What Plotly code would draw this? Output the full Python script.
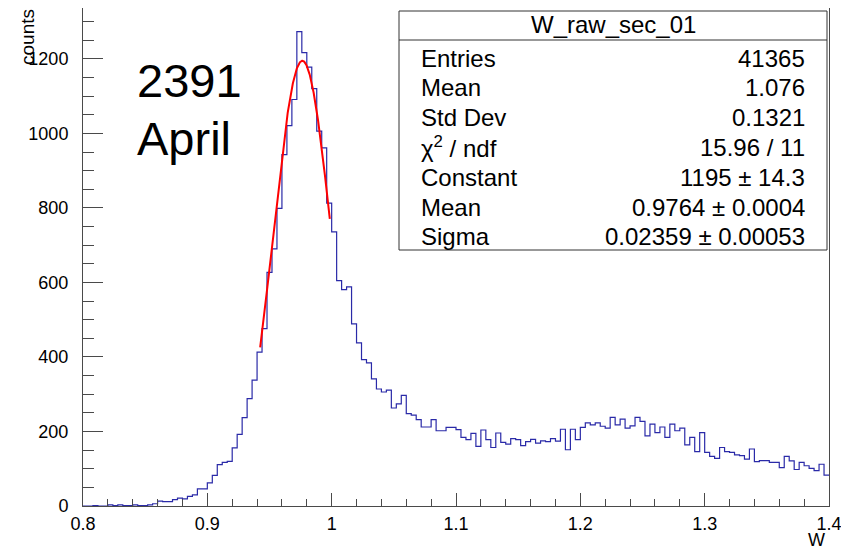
import numpy as np
import plotly.graph_objects as go

# ---- histogram: W_raw_sec_01, 150 bins on [0.8, 1.4] ----
x_min, x_max, n_bins = 0.8, 1.4, 150
counts = [
    0, 0, 1, 0, 0, 3, 1, 3, 1, 1,
    3, 1, 1, 3, 6, 13, 12, 12, 17, 21,
    19, 26, 30, 46, 46, 62, 82, 111, 117, 120,
    156, 192, 237, 288, 338, 413, 476, 627, 690, 799,
    943, 1021, 1091, 1273, 1217, 1178, 1120, 1006, 961, 813,
    736, 605, 581, 588, 489, 438, 393, 384, 341, 314,
    306, 311, 263, 274, 297, 248, 244, 232, 212, 212,
    232, 202, 202, 211, 211, 205, 184, 178, 195, 160,
    204, 178, 157, 196, 171, 166, 181, 178, 162, 173,
    179, 169, 175, 173, 181, 174, 206, 151, 206, 178,
    211, 223, 218, 223, 214, 209, 238, 218, 233, 209,
    215, 238, 227, 188, 220, 197, 212, 184, 220, 202,
    209, 164, 184, 146, 197, 144, 133, 128, 157, 146,
    144, 137, 135, 126, 153, 119, 122, 122, 117, 117,
    103, 133, 121, 98, 117, 108, 101, 95, 112, 83,
]
edges = np.linspace(x_min, x_max, n_bins + 1)

x_tick_vals = [0.8, 0.9, 1.0, 1.1, 1.2, 1.3, 1.4]
x_tick_text = ["0.8", "0.9", "1", "1.1", "1.2", "1.3", "1.4"]

# ---- gaussian fit result ----
fit_const, fit_mean, fit_sigma = 1195.0, 0.9764, 0.02359
fit_lo, fit_hi = 0.9425, 0.9985
xf = np.linspace(fit_lo, fit_hi, 300)
yf = fit_const * np.exp(-0.5 * ((xf - fit_mean) / fit_sigma) ** 2)

# ---- stats box contents ----
stats_title = "W_raw_sec_01"
stats_labels = ["Entries", "Mean", "Std Dev", "χ<sup>2</sup> / ndf",
                "Constant", "Mean", "Sigma"]
stats_values = ["41365", "1.076", "0.1321", "15.96 / 11",
                "1195 ± 14.3", "0.9764 ± 0.0004", "0.02359 ± 0.00053"]

run_label = ["2391", "April"]

# ---- canvas geometry (pixels) ----
W_PX, H_PX = 841, 549
L, R, T, B = 83, 829, 8, 506
PW, PH = R - L, B - T


def fx(px):
    return (px - L) / PW


def fy(py):
    return (B - py) / PH


FONT = "Liberation Sans, Arial, Helvetica, sans-serif"
AXIS_COL = "#4a4a4a"

fig = go.Figure()

fig.add_trace(go.Scatter(
    x=edges,
    y=list(counts) + [counts[-1]],
    mode="lines",
    line=dict(shape="hv", color="#2a2aa8", width=1.2),
    hoverinfo="skip",
    showlegend=False,
))

fig.add_trace(go.Scatter(
    x=xf, y=yf, mode="lines",
    line=dict(color="#ff0000", width=2),
    hoverinfo="skip",
    showlegend=False,
))

y_top = 1.05 * max(counts)

fig.update_layout(
    width=W_PX, height=H_PX,
    margin=dict(l=L, r=W_PX - R, t=T, b=H_PX - B, pad=0, autoexpand=False),
    paper_bgcolor="white", plot_bgcolor="white",
    font=dict(family=FONT, color="black"),
    xaxis=dict(
        range=[x_min, x_max], showgrid=False, zeroline=False,
        showline=True, linecolor=AXIS_COL, linewidth=1, mirror=False,
        ticks="inside", ticklen=13, tickcolor=AXIS_COL, tickwidth=1,
        tickmode="array", tickvals=x_tick_vals, ticktext=x_tick_text,
        tickfont=dict(size=18, family=FONT, color="black"),
        ticklabelstandoff=1, ticklabeloverflow="allow", automargin=False,
        minor=dict(ticks="inside", ticklen=7, dtick=0.02, tick0=0.8,
                   tickcolor=AXIS_COL, tickwidth=1, showgrid=False),
    ),
    yaxis=dict(
        range=[0, y_top], showgrid=False, zeroline=False,
        showline=True, linecolor=AXIS_COL, linewidth=1, mirror=True,
        ticks="inside", ticklen=20, tickcolor=AXIS_COL, tickwidth=1,
        tick0=0, dtick=200,
        tickfont=dict(size=18, family=FONT, color="black"),
        ticklabelstandoff=10, ticklabeloverflow="allow", automargin=False,
        minor=dict(ticks="inside", ticklen=11, dtick=50, tick0=0,
                   tickcolor=AXIS_COL, tickwidth=1, showgrid=False),
    ),
)

annotations = []
shapes = []

# axis titles
annotations.append(dict(
    text="counts", xref="paper", yref="paper",
    x=fx(28), y=fy(7), xanchor="center", yanchor="top",
    textangle=-90, showarrow=False,
    font=dict(size=19, family=FONT, color="black"),
))
annotations.append(dict(
    text="W", xref="paper", yref="paper",
    x=fx(827), y=fy(540), xanchor="right", yanchor="middle",
    showarrow=False, font=dict(size=18, family=FONT, color="black"),
))

# run / month label
for i, txt in enumerate(run_label):
    annotations.append(dict(
        text=txt, xref="paper", yref="paper",
        x=fx(135), y=fy(80 + 58 * i), xanchor="left", yanchor="middle",
        showarrow=False, font=dict(size=47, family=FONT, color="black"),
    ))

# stats box
bx0, bx1, by0, by1, by_sep = 399, 827, 11, 250, 40
shapes.append(dict(
    type="rect", xref="paper", yref="paper",
    x0=fx(bx0), x1=fx(bx1), y0=fy(by1), y1=fy(by0),
    line=dict(color="#333333", width=1), fillcolor="white", layer="above",
))
shapes.append(dict(
    type="line", xref="paper", yref="paper",
    x0=fx(bx0), x1=fx(bx1), y0=fy(by_sep), y1=fy(by_sep),
    line=dict(color="#333333", width=1), layer="above",
))
annotations.append(dict(
    text=stats_title, xref="paper", yref="paper",
    x=fx((bx0 + bx1) / 2), y=fy(25), xanchor="center", yanchor="middle",
    showarrow=False, font=dict(size=24, family=FONT, color="black"),
))
for i, (lab, val) in enumerate(zip(stats_labels, stats_values)):
    yc = fy(58 + 29.8 * i)
    annotations.append(dict(
        text=lab, xref="paper", yref="paper", x=fx(419), y=yc,
        xanchor="left", yanchor="middle", showarrow=False,
        font=dict(size=24, family=FONT, color="black"),
    ))
    annotations.append(dict(
        text=val, xref="paper", yref="paper", x=fx(807), y=yc,
        xanchor="right", yanchor="middle", showarrow=False,
        font=dict(size=24, family=FONT, color="black"),
    ))

fig.update_layout(annotations=annotations, shapes=shapes)

fig.write_html("out.html")
